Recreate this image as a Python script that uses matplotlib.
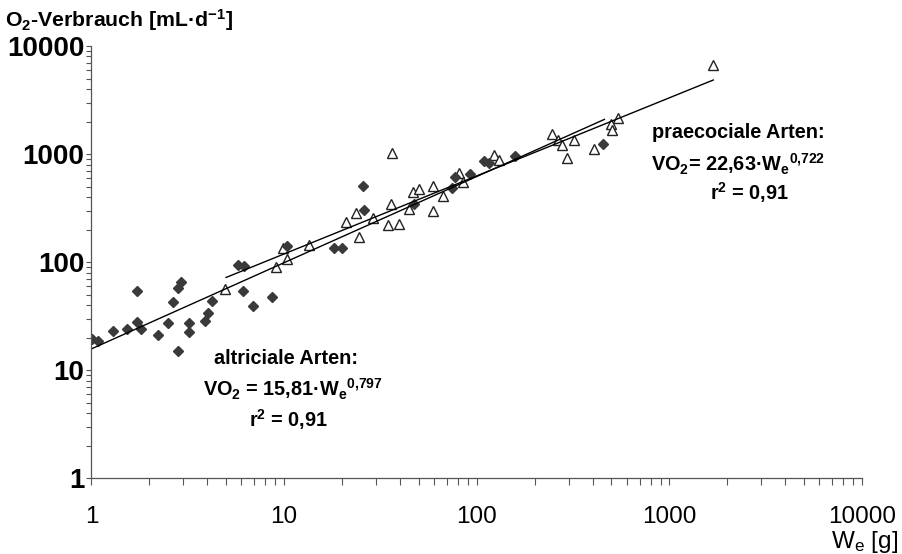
import matplotlib
matplotlib.use('Agg')
import matplotlib.pyplot as plt
import numpy as np

# altriciale Arten (filled diamonds): egg mass W_e [g], O2 consumption [mL/d]
alt_w = [1.01, 1.08, 1.30, 1.52, 1.73, 1.72, 1.81, 2.21, 2.49, 2.64,
         2.80, 2.90, 2.80, 3.21, 3.20, 3.88, 4.01, 4.24, 5.76, 6.17,
         6.14, 6.90, 8.65, 10.4, 18.2, 19.9, 25.8, 26.1, 47.5, 74.6,
         77.1, 92.3, 109, 116, 158, 452]
alt_vo2 = [19.4, 18.8, 23.1, 23.9, 54.4, 27.9, 23.9, 21.2, 27.2, 42.5,
           58.0, 65.9, 15.2, 27.5, 22.5, 28.6, 33.6, 44.0, 94.6, 91.4,
           54.4, 39.3, 47.3, 142, 136, 136, 505, 303, 349, 487,
           615, 652, 860, 829, 967, 1230]

# praecociale Arten (open triangles)
pra_w = [4.92, 9.08, 9.84, 10.4, 13.4, 20.9, 23.5, 29.0, 24.4, 34.5,
         39.5, 36.2, 35.8, 44.7, 46.9, 50.3, 59.5, 59.5, 67.1, 81.2,
         85.2, 123, 131, 246, 265, 278, 318, 293, 408, 500,
         538, 502, 1692]
pra_vo2 = [56.1, 91.0, 134, 106, 144, 235, 283, 259, 170, 220,
           228, 1026, 349, 310, 444, 472, 505, 299, 414, 662,
           553, 991, 891, 1550, 1364, 1208, 1364, 926, 1117, 1918,
           2179, 1663, 6730]

# regression lines: VO2 = a * W^b, drawn over the given range
alt_fit = (15.81, 0.797, 1.0, 460.0)
pra_fit = (22.63, 0.722, 5.0, 1690.0)

FONT = 'Liberation Sans'

fig = plt.figure(figsize=(9.03, 5.54), dpi=100)
ax = fig.add_axes([0.1013, 0.1363, 0.8533, 0.7807])

ax.plot(pra_w, pra_vo2, linestyle='none', marker='^', markersize=7.5,
        markerfacecolor='white', markeredgecolor='#222222', markeredgewidth=1.0)
ax.plot(alt_w, alt_vo2, linestyle='none', marker='D', markersize=5.5,
        markerfacecolor='#3a3a3a', markeredgecolor='#3a3a3a')

for a, b, x0, x1 in (alt_fit, pra_fit):
    xs = np.array([x0, x1])
    ax.plot(xs, a * xs ** b, color='black', linewidth=1.0)

ax.set_xscale('log')
ax.set_yscale('log')
ax.set_xlim(1, 10000)
ax.set_ylim(1, 10000)

for s in ['top', 'right']:
    ax.spines[s].set_visible(False)
for s in ['left', 'bottom']:
    ax.spines[s].set_color('#555555')
    ax.spines[s].set_linewidth(0.9)

ax.set_xticks([1, 10, 100, 1000, 10000])
ax.set_xticklabels(['1', '10', '100', '1000', '10000'])
ax.set_yticks([1, 10, 100, 1000, 10000])
ax.set_yticklabels(['1', '10', '100', '1000', '10000'])
ax.tick_params(axis='x', which='both', direction='out', length=5, width=0.8,
               color='#555555', pad=15)
ax.tick_params(axis='y', which='both', direction='out', length=3.5, width=0.8,
               color='#555555', pad=1.5)
for lab in ax.get_xticklabels():
    lab.set_family(FONT)
    lab.set_fontsize(17.5)
for lab in ax.get_yticklabels():
    lab.set_family(FONT)
    lab.set_fontweight('bold')
    lab.set_fontsize(20)

def px(x, y):
    return x / 903.0, 1 - y / 554.0

fig.text(*px(5, 27), r'O$\mathregular{_2}$-Verbrauch [mL·d$\mathregular{^{-1}}$]',
         family=FONT, fontweight='bold', fontsize=15.3, va='baseline', ha='left')
fig.text(*px(898, 542), r'W$\mathregular{_e}$ [g]', family=FONT,
         fontsize=17.5, ha='right', va='center')

ann = dict(family=FONT, fontweight='bold', fontsize=14.3, ha='center', va='center')
fig.text(*px(738, 132), 'praecociale Arten:', **ann)
fig.text(*px(738, 164), r'VO$\mathregular{_2}$= 22,63·W$\mathregular{_e}$$\mathregular{^{0{,}722}}$', **ann)
fig.text(*px(749, 193), r'r$\mathregular{^2}$ = 0,91', **ann)

fig.text(*px(286, 358), 'altriciale Arten:', **ann)
fig.text(*px(293, 389), r'VO$\mathregular{_2}$ = 15,81·W$\mathregular{_e}$$\mathregular{^{0{,}797}}$', **ann)
fig.text(*px(288, 420), r'r$\mathregular{^2}$ = 0,91', **ann)

plt.savefig('out.png', dpi=100)
